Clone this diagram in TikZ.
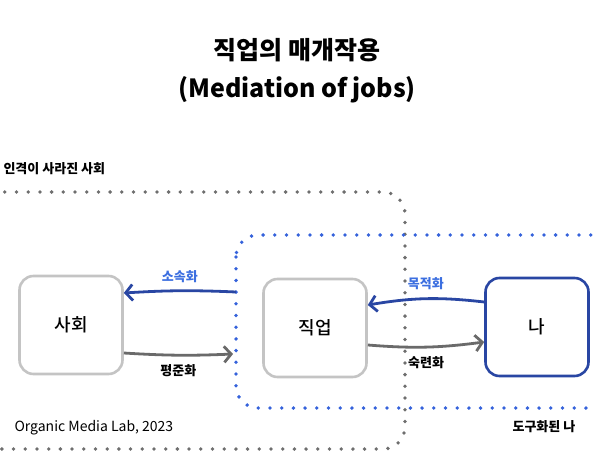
\documentclass[tikz,border=0pt]{standalone}
\usepackage{fontspec}
\setmainfont{Noto Sans CJK KR}
\newfontfamily\medfont{Noto Sans CJK KR Medium}
\usetikzlibrary{arrows.meta, positioning}
\definecolor{boxgray}{HTML}{C4C4C4}
\definecolor{dotgray}{HTML}{6E6E6E}
\definecolor{arrowgray}{HTML}{6A6A6A}
\definecolor{meblue}{HTML}{2946A3}
\definecolor{labelblue}{HTML}{3C6FE0}
\definecolor{dotblue}{HTML}{3562DB}

\begin{document}
\begin{tikzpicture}[x=1pt,y=-1pt,
    box/.style={draw=boxgray, line width=2.6pt, rounded corners=14pt, fill=white,
      minimum width=103pt, minimum height=98pt, font=\medfont\fontsize{18}{20}\selectfont},
    flow/.style={line width=2.8pt, -{Straight Barb[length=7pt,width=16pt]}},
    tag/.style={font=\bfseries\fontsize{13}{15}\selectfont},
    dots/.style={line width=3.8pt, line cap=round, dash pattern=on 0pt off 11.7pt, rounded corners=22pt}]
        \clip (0,0) rectangle (594,476);
        \node[font=\bfseries\fontsize{25}{38}\selectfont, align=center] (title) at (297,71)
            {직업의 매개작용\\(Mediation of jobs)};
        % the two circles of the picture
        \draw[dots, draw=dotgray] (-30,192) rectangle (405,449);
        \draw[dots, draw=dotblue] (236,235) rectangle (640,408);
        \node[tag, anchor=west] (outer) at (0,169) {인격이 사라진 사회};
        \node[tag, anchor=west] (inner) at (509,427) {도구화된 나};
        \node[anchor=west, font=\fontsize{14}{16}\selectfont] (credit) at (11,428) {Organic Media Lab, 2023};
        % boxes
        \node[box] (sahoe) at (71,325) {사회};
        \node[box] (jigeop) at (315,328) {직업};
        \node[box, draw=meblue] (na) at (537,327) {나};
        \coordinate (edgeL) at (236,292);
        \coordinate (edgeB) at (233,354);
        % arrows
        \draw[flow, draw=meblue] (edgeL) to[bend right=3]
            node[tag, text=labelblue, above=3pt] {소속화} ([yshift=32pt]sahoe.east);
        \draw[flow, draw=arrowgray] ([yshift=-28pt]sahoe.east) to[bend right=3]
            node[tag, below=5pt] {평준화} (edgeB);
        \draw[flow, draw=meblue] ([yshift=25pt]na.west) to[bend right=8]
            node[tag, text=labelblue, above=4pt] {목적화} ([yshift=23pt]jigeop.east);
        \draw[flow, draw=arrowgray] ([yshift=-17pt]jigeop.east) to[bend right=6]
            node[tag, below=5pt] {숙련화} ([yshift=-15pt]na.west);
    \end{tikzpicture}
\end{document}
